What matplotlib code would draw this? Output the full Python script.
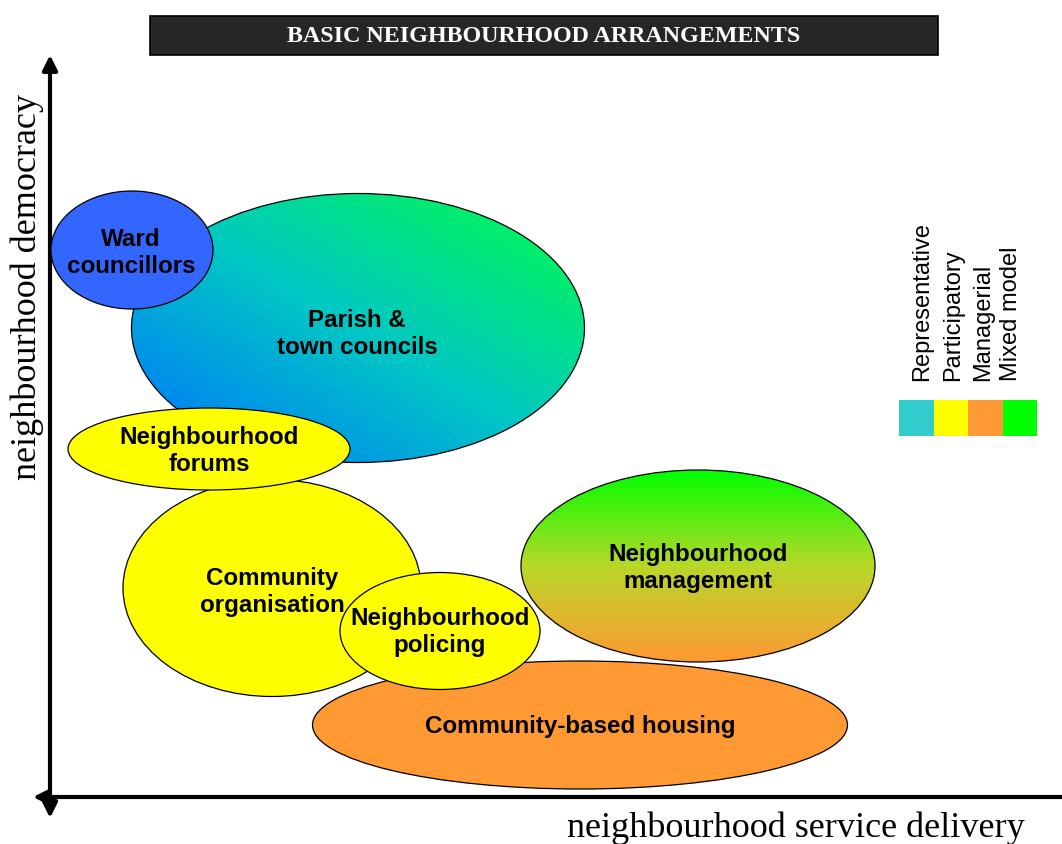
import numpy as np
import matplotlib
matplotlib.use("Agg")
import matplotlib.pyplot as plt
from matplotlib.patches import Ellipse, Rectangle
from matplotlib.colors import to_rgb

# ---- data ----
labels = ["Parish &\ntown councils", "Ward\ncouncillors", "Community\norganisation",
          "Neighbourhood\nforums", "Neighbourhood\nmanagement", "Community-based housing",
          "Neighbourhood\npolicing"]
cx = [358, 132, 272, 209, 698, 580, 440]
cy = [328, 250, 588, 449, 566, 725, 631]
widths = [453, 162, 298, 282, 354, 535, 200]
heights = [269, 118, 217, 82, 192, 128, 117]
text_x = [357, 131, 272, 209, 698, 580, 440]
text_y = [334, 253, 592, 451, 568, 726, 632]
# three colour stops per shape (start, middle, end)
fill_a = ["#0070FF", "#3366FF", "#FFFF00", "#FFFF00", "#00FF00", "#FF9933", "#FFFF00"]
fill_m = ["#00C8C4", "#3366FF", "#FFFF00", "#FFFF00", "#B8D828", "#FF9933", "#FFFF00"]
fill_b = ["#00FF44", "#3366FF", "#FFFF00", "#FFFF00", "#FF9933", "#FF9933", "#FFFF00"]
gradient = ["diag", None, None, None, "vert", None, None]

legend_labels = ["Representative", "Participatory", "Managerial", "Mixed model"]
legend_colors = ["#33CCCC", "#FFFF00", "#FF9933", "#00FF00"]

title = "BASIC NEIGHBOURHOOD ARRANGEMENTS"
xlabel = "neighbourhood service delivery"
ylabel = "neighbourhood democracy"

# ---- figure ----
W, H = 1062, 844
fig = plt.figure(figsize=(W / 100, H / 100), dpi=100)
ax = fig.add_axes([0, 0, 1, 1])
ax.set_xlim(0, W)
ax.set_ylim(H, 0)
ax.axis("off")

# title bar
ax.add_patch(Rectangle((150, 16), 788, 39, facecolor="#262626", edgecolor="black", lw=1.2, zorder=5))
ax.text(544, 36, title, color="white", fontsize=17.3, fontweight="bold",
        family="Liberation Serif", ha="center", va="center", zorder=6)

# axes arrows
ax.annotate("", xy=(50, 55), xytext=(50, 818),
            arrowprops=dict(arrowstyle="<|-|>", color="black", lw=3, mutation_scale=22,
                            shrinkA=0, shrinkB=0), zorder=3)
ax.annotate("", xy=(33, 797), xytext=(1062, 797),
            arrowprops=dict(arrowstyle="-|>", color="black", lw=3, mutation_scale=22,
                            shrinkA=0, shrinkB=0), zorder=3)
ax.text(1025, 828, xlabel, fontsize=26, family="Liberation Serif", ha="right", va="center")
ax.text(27, 287, ylabel, fontsize=26, family="Liberation Serif", ha="center", va="center",
        rotation=90)


def blend(t, c0, c1, c2):
    c0, c1, c2 = (np.array(to_rgb(c)) for c in (c0, c1, c2))
    t = t[..., None]
    lo = c0 * (1 - 2 * t) + c1 * (2 * t)
    hi = c1 * (2 - 2 * t) + c2 * (2 * t - 1)
    return np.clip(np.where(t < 0.5, lo, hi), 0, 1)


# ellipses
for i in range(len(labels)):
    z = 10 + i * 2
    e = Ellipse((cx[i], cy[i]), widths[i], heights[i], facecolor="none",
                edgecolor="black", lw=0.9, zorder=z + 1)
    x0, x1 = cx[i] - widths[i] / 2, cx[i] + widths[i] / 2
    y0, y1 = cy[i] - heights[i] / 2, cy[i] + heights[i] / 2
    if gradient[i] is None:
        bg = Ellipse((cx[i], cy[i]), widths[i], heights[i], facecolor=fill_a[i],
                     edgecolor="none", zorder=z)
        ax.add_patch(bg)
    else:
        ny, nx = 200, 300
        u = np.linspace(0, 1, nx)[None, :]
        v = np.linspace(0, 1, ny)[:, None]  # 0 top, 1 bottom
        if gradient[i] == "diag":
            t = (u + (1 - v)) / 2  # 0 bottom-left, 1 top-right
        else:
            t = v + 0 * u  # 0 top, 1 bottom
        img = blend(t, fill_a[i], fill_m[i], fill_b[i])
        im = ax.imshow(img, extent=(x0, x1, y1, y0), origin="upper", zorder=z,
                       interpolation="bilinear", aspect="auto")
        clip = Ellipse((cx[i], cy[i]), widths[i], heights[i], transform=ax.transData)
        im.set_clip_path(clip)
    ax.add_patch(e)
    ax.text(text_x[i], text_y[i], labels[i], fontsize=17.4, fontweight="bold",
            family="Liberation Sans", ha="center", va="center", linespacing=1.27,
            zorder=z + 1)

ax.set_xlim(0, W)
ax.set_ylim(H, 0)

# legend
leg_x = [922, 953, 983, 1011]
for j, lab in enumerate(legend_labels):
    ax.text(leg_x[j], 381, lab, fontsize=17, family="Liberation Sans", rotation=90,
            ha="center", va="bottom")
sw_x0, sw_w, sw_y, sw_h = 899, 34.5, 400, 36
for j, col in enumerate(legend_colors):
    ax.add_patch(Rectangle((sw_x0 + j * sw_w, sw_y), sw_w, sw_h, facecolor=col,
                           edgecolor="none"))

fig.savefig("out.png", dpi=100)
